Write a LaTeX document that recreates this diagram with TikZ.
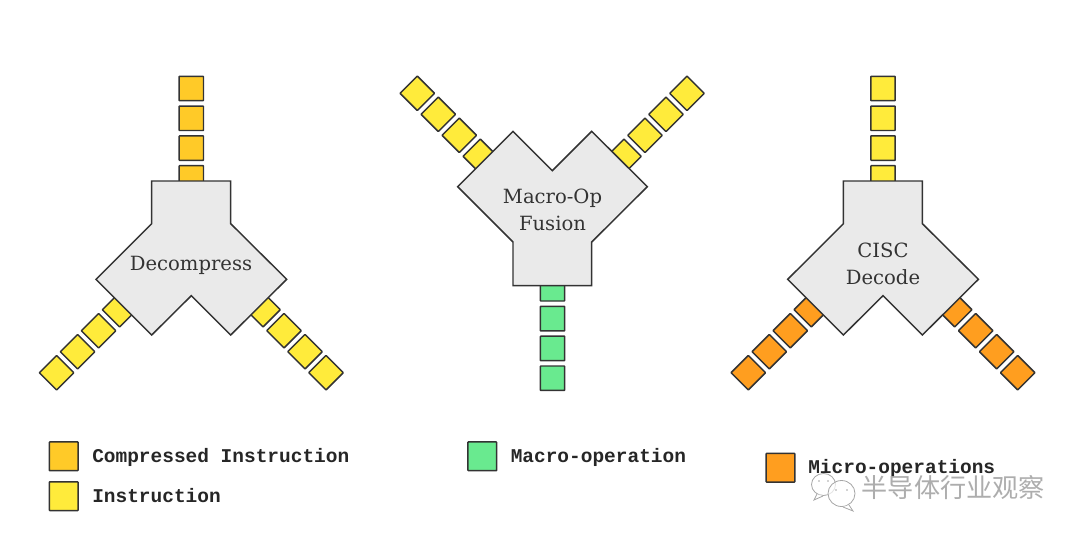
\documentclass[tikz,border=0pt]{standalone}
\usepackage{fontspec}
\setmainfont{DejaVu Serif}
\setmonofont{Liberation Mono}
\newfontfamily\cjkfont{Noto Sans CJK SC}
\definecolor{edge}{HTML}{333333}
\definecolor{gold}{HTML}{FFCA28}
\definecolor{yell}{HTML}{FFEB3B}
\definecolor{orng}{HTML}{FF9E1F}
\definecolor{gren}{HTML}{69EA8F}
\definecolor{blockgrey}{HTML}{EAEAEA}
\definecolor{inktext}{HTML}{333333}
\tikzset{
  x=0.75pt,y=-0.75pt,
  cell/.style={draw=edge,line width=1.1pt,rounded corners=0.4pt,minimum size=18.3pt,inner sep=0pt,outer sep=0pt},
  keycell/.style={cell,minimum size=21.5pt},
  block/.style={draw=edge,line width=1.1pt,fill=blockgrey,line join=miter},
  blocklabel/.style={text=inktext,font=\fontsize{14.7pt}{20.6pt}\selectfont,align=center,inner sep=0pt},
  keylabel/.style={text=black!85,anchor=base west,inner sep=0pt,font=\ttfamily\bfseries\fontsize{14.6pt}{16pt}\selectfont},
  mark label/.style={text=black!32,anchor=west,inner sep=0pt,font=\cjkfont\fontsize{19.6pt}{22pt}\selectfont},
  bubble/.style={draw=black!35,line width=0.6pt,fill=white,fill opacity=0.7},
}
\begin{document}
\begin{tikzpicture}
\useasboundingbox (0,0) rectangle (1080,536);
% Decompress
\foreach \i in {0,1,2,3}{
  \node[cell,fill=gold] (da\i) at (191.3,88.5+29.8*\i) {};
  \node[cell,fill=yell,rotate=45] (db\i) at (56.6+21*\i,372.7-21*\i) {};
  \node[cell,fill=yell,rotate=45] (dc\i) at (326-21*\i,372.7-21*\i) {};
}
\draw[block] (151.7,181) -- (230.7,181) -- (230.7,223.7) -- (286.7,279.3) -- (230.7,335) -- (191.3,295.7) -- (151.7,335) -- (96,279.3) -- (151.7,223.7) -- cycle;
\node[blocklabel,anchor=base] (dl) at (191,270) {Decompress};
% Macro-Op Fusion
\foreach \i in {0,1,2,3}{
  \node[cell,fill=gren] (ma\i) at (552.5,378.2-29.8*\i) {};
  \node[cell,fill=yell,rotate=45] (mb\i) at (417.3+21*\i,93.3+21*\i) {};
  \node[cell,fill=yell,rotate=45] (mc\i) at (687-21*\i,93.3+21*\i) {};
}
\draw[block] (513,285.7) -- (591.7,285.7) -- (591.7,242) -- (647.3,186.7) -- (591.7,131.3) -- (552.3,170.7) -- (513,131.3) -- (457.7,186.7) -- (513,242) -- cycle;
\node[blocklabel] (ml) at (552.5,210) {Macro-Op\\Fusion};
% CISC Decode
\foreach \i in {0,1,2,3}{
  \node[cell,fill=yell] (ca\i) at (883,88.5+29.8*\i) {};
  \node[cell,fill=orng,rotate=45] (cb\i) at (748.3+21*\i,372.7-21*\i) {};
  \node[cell,fill=orng,rotate=45] (cc\i) at (1017.7-21*\i,372.7-21*\i) {};
}
\draw[block] (843.4,181) -- (922.4,181) -- (922.4,223.7) -- (978.4,279.3) -- (922.4,335) -- (883,295.7) -- (843.4,335) -- (787.7,279.3) -- (843.4,223.7) -- cycle;
\node[blocklabel] (cl) at (883,264) {CISC\\Decode};
% Legend
\node[keycell,fill=gold] (k1) at (63.7,456.3) {};
\node[keylabel] (t1) at (92,462.3) {Compressed Instruction};
\node[keycell,fill=yell] (k2) at (63.7,496.2) {};
\node[keylabel] (t2) at (92,502.5) {Instruction};
\node[keycell,fill=gren] (k3) at (482.3,456.3) {};
\node[keylabel] (t3) at (510.5,462.4) {Macro-operation};
\node[keycell,fill=orng] (k4) at (780.5,467.7) {};
\node[keylabel] (t4) at (808,473.5) {Micro-operations};
% Watermark
\draw[bubble] (823.5,484.5) ellipse [x radius=12,y radius=11];
\draw[bubble] (817,494) -- (814,500) -- (823,496);
\draw[bubble] (841.5,493.5) ellipse [x radius=13.5,y radius=13];
\draw[bubble] (849,505) -- (853,511) -- (843,507);
\foreach \p in {(819,481),(828,481),(836,490),(847,490)}
  \fill[black!35] \p circle (0.9);
\node[mark label] (wm) at (861.5,488) {半导体行业观察};
\end{tikzpicture}
\end{document}
